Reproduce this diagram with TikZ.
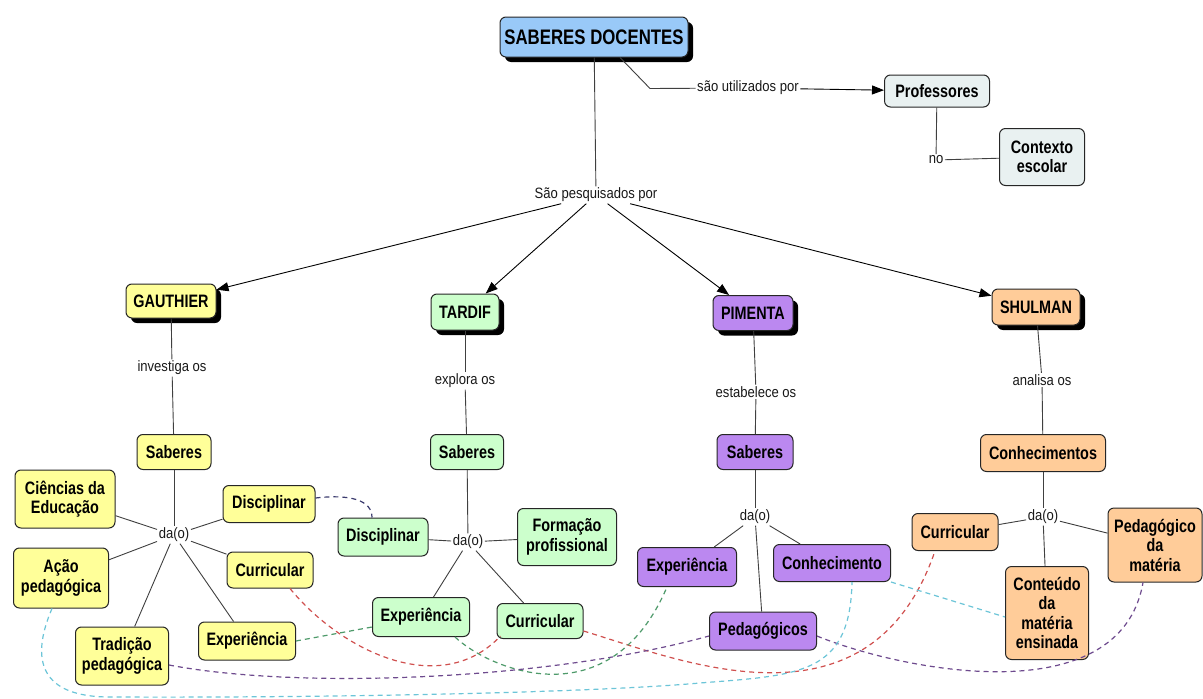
\documentclass[tikz,border=0pt]{standalone}
\usepackage{fontspec}
\usetikzlibrary{arrows.meta,shadows}
\newfontfamily\cfont{Liberation Sans}[FakeStretch=0.8]
\newfontfamily\lfont{Liberation Sans}[FakeStretch=0.87]
\definecolor{cblue}{HTML}{99C9F8}
\definecolor{cgray}{HTML}{E9F1F1}
\definecolor{cyel}{HTML}{FFFF99}
\definecolor{cgrn}{HTML}{CCFFCC}
\definecolor{cpur}{HTML}{BB88F0}
\definecolor{corg}{HTML}{FFCC99}
\definecolor{dnavy}{HTML}{3B3B6E}
\definecolor{dred}{HTML}{D0504F}
\definecolor{dgreen}{HTML}{4E9A6A}
\definecolor{dpurple}{HTML}{6E4A8E}
\definecolor{dcyan}{HTML}{6CC5D8}
\begin{document}
\begin{tikzpicture}[x=1pt,y=-1pt,
  concept/.style={draw=black!85, line width=1pt, rounded corners=6pt, align=center,
    inner sep=1pt, text=black, font=\cfont\bfseries\fontsize{18}{19.5}\selectfont},
  topc/.style={concept, drop shadow={shadow xshift=5pt,shadow yshift=-5pt,fill=black,opacity=1}},
  lab/.style={font=\lfont\fontsize{15}{16}\selectfont, fill=white, inner sep=1.5pt, text=black!90},
  conn/.style={draw=black!75, line width=0.9pt},
  arr/.style={draw=black, line width=0.9pt, -{Triangle[length=12pt,width=9pt]}},
  dl/.style={line width=1.2pt, dash pattern=on 5pt off 4pt},
]
\useasboundingbox (0,0) rectangle (1203,699);
\fill[white] (0,0) rectangle (1203,699);

% top
\node[topc, fill=cblue, minimum width=188pt, minimum height=40pt,
  font=\cfont\bfseries\fontsize{21}{22}\selectfont] (sd) at (594,37) {SABERES DOCENTES};
\node[lab] (util) at (748,88) {são utilizados por};
\node[concept, fill=cgray, minimum width=105pt, minimum height=32pt] (prof) at (937,91) {Professores};
\node[lab] (no) at (936,160) {no};
\node[concept, fill=cgray, minimum width=85pt, minimum height=57pt] (ctx) at (1042,157) {Contexto\\escolar};
\node[lab] (pesq) at (596,195) {São pesquisados por};

% authors
\node[topc, fill=cyel, minimum width=90pt, minimum height=34pt] (gau) at (171,301) {GAUTHIER};
\node[topc, fill=cgrn, minimum width=68pt, minimum height=36pt] (tar) at (465,312) {TARDIF};
\node[topc, fill=cpur, minimum width=80pt, minimum height=35pt] (pim) at (753,313) {PIMENTA};
\node[topc, fill=corg, minimum width=88pt, minimum height=36pt] (shu) at (1036,307) {SHULMAN};

\node[lab] (inv) at (172,368) {investiga os};
\node[lab] (exl) at (465,381) {explora os};
\node[lab] (est) at (756,392) {estabelece os};
\node[lab] (ana) at (1042,380) {analisa os};

% second level
\node[concept, fill=cyel, minimum width=74pt, minimum height=35pt] (gsab) at (174,452) {Saberes};
\node[concept, fill=cgrn, minimum width=73pt, minimum height=35pt] (tsab) at (467,452) {Saberes};
\node[concept, fill=cpur, minimum width=76pt, minimum height=35pt] (psab) at (755,452) {Saberes};
\node[concept, fill=corg, minimum width=125pt, minimum height=37pt] (scon) at (1043,453) {Conhecimentos};

\node[lab] (gda) at (174,535) {da(o)};
\node[lab] (tda) at (468,542) {da(o)};
\node[lab] (pda) at (755,517) {da(o)};
\node[lab] (sda) at (1043,517) {da(o)};

% Gauthier children
\node[concept, fill=cyel, minimum width=100pt, minimum height=58pt] (cie) at (65,499) {Ciências da\\Educação};
\node[concept, fill=cyel, minimum width=92pt, minimum height=37pt] (gdis) at (269,504) {Disciplinar};
\node[concept, fill=cyel, minimum width=95pt, minimum height=60pt] (aped) at (61,578) {Ação\\pedagógica};
\node[concept, fill=cyel, minimum width=86pt, minimum height=36pt] (gcur) at (270,570) {Curricular};
\node[concept, fill=cyel, minimum width=93pt, minimum height=58pt] (trad) at (122,656) {Tradição\\pedagógica};
\node[concept, fill=cyel, minimum width=97pt, minimum height=38pt] (gexp) at (247,641) {Experiência};

% Tardif children
\node[concept, fill=cgrn, minimum width=90pt, minimum height=38pt] (tdis) at (383,537) {Disciplinar};
\node[concept, fill=cgrn, minimum width=99pt, minimum height=57pt] (tfor) at (567,537) {Formação\\profissional};
\node[concept, fill=cgrn, minimum width=97pt, minimum height=39pt] (texp) at (421,617) {Experiência};
\node[concept, fill=cgrn, minimum width=86pt, minimum height=35pt] (tcur) at (540,621) {Curricular};

% Pimenta children
\node[concept, fill=cpur, minimum width=99pt, minimum height=39pt] (pexp) at (687,567) {Experiência};
\node[concept, fill=cpur, minimum width=117pt, minimum height=37pt] (cono) at (832,563) {Conhecimento};
\node[concept, fill=cpur, minimum width=107pt, minimum height=38pt] (pped) at (763,631) {Pedagógicos};

% Shulman children
\node[concept, fill=corg, minimum width=86pt, minimum height=37pt] (scur) at (955,532) {Curricular};
\node[concept, fill=corg, minimum width=83pt, minimum height=93pt] (ctd) at (1047,613) {Conteúdo\\da\\matéria\\ensinada};
\node[concept, fill=corg, minimum width=94pt, minimum height=74pt] (pmat) at (1155,545) {Pedagógico\\da\\matéria};

% solid connectors
\draw[conn] (sd) -- (pesq);
\draw[conn] ([xshift=26pt]sd.south) -- ++(30,31) -- (util);
\draw[arr] (util) -- (prof);
\draw[conn] (prof) -- (no);
\draw[conn] (no) -- (ctx);
\draw[arr] (pesq) -- (gau);
\draw[arr] (pesq) -- (tar);
\draw[arr] (pesq) -- (pim);
\draw[arr] (pesq) -- (shu);

\draw[conn] (gau) -- (inv);
\draw[conn] (inv) -- (gsab);
\draw[conn] (tar) -- (exl);
\draw[conn] (exl) -- (tsab);
\draw[conn] (pim) -- (est);
\draw[conn] (est) -- (psab);
\draw[conn] (shu) -- (ana);
\draw[conn] (ana) -- (scon);

\draw[conn] (gsab) -- (gda);
\foreach \n in {cie,gdis,aped,gcur,trad,gexp} \draw[conn] (gda) -- (\n);
\draw[conn] (tsab) -- (tda);
\foreach \n in {tdis,tfor,texp,tcur} \draw[conn] (tda) -- (\n);
\draw[conn] (psab) -- (pda);
\foreach \n in {pexp,cono,pped} \draw[conn] (pda) -- (\n);
\draw[conn] (scon) -- (sda);
\foreach \n in {scur,ctd,pmat} \draw[conn] (sda) -- (\n);

% dashed cross links
\draw[dl, dnavy] ([yshift=6pt]gdis.east) .. controls (350,494) and (372,500) .. ([xshift=-11pt]tdis.north);
\draw[dl, dred] ([xshift=20pt]gcur.south) .. controls (340,650) and (440,700) .. ([xshift=4pt,yshift=3pt]tcur.south west);
\draw[dl, dred] ([yshift=-10pt]tcur.east) .. controls (680,660) and (870,740) .. ([xshift=-20pt]scur.south);
\draw[dl, dgreen] (gexp.east) -- ([yshift=-10pt]texp.west);
\draw[dl, dgreen] ([xshift=34pt]texp.south) .. controls (490,670) and (610,720) .. ([xshift=-20pt]pexp.south);
\draw[dl, dpurple] ([yshift=-9pt]trad.east) .. controls (300,690) and (550,680) .. ([yshift=-5pt]pped.west);
\draw[dl, dpurple] ([yshift=-5pt]pped.east) .. controls (900,670) and (1120,715) .. ([xshift=-12pt]pmat.south);
\draw[dl, dcyan] ([xshift=-9pt]aped.south) .. controls (30,660) and (40,697) .. (110,697)
  .. controls (350,698) and (600,692) .. (700,683)
  .. controls (800,675) and (850,675) .. ([xshift=20pt]cono.south);
\draw[dl, dcyan] (cono.south east) -- ([yshift=-4pt]ctd.west);
\end{tikzpicture}
\end{document}
